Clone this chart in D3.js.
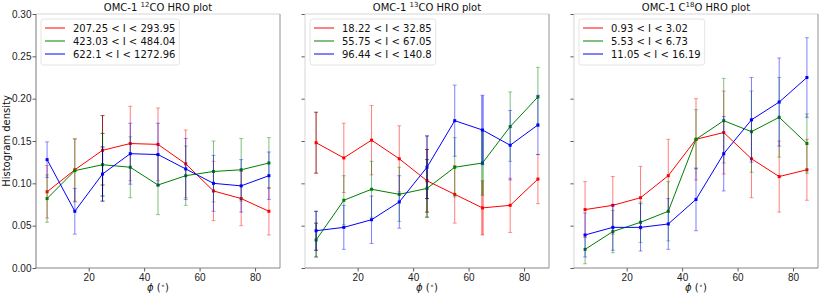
<!DOCTYPE html>
<html>
<head>
<meta charset="utf-8">
<script src="https://cdn.jsdelivr.net/npm/d3@7"></script>
<style>
  body { margin: 0; background: #fff; }
  svg { display: block; font-family: "DejaVu Sans", sans-serif; }
</style>
</head>
<body>
<svg id="chart" width="822" height="295"></svg>
<script>
// angle bins (deg)
const phi = [5, 15, 25, 35, 45, 55, 65, 75, 85];
const xTicks = [20, 40, 60, 80];
const yTicks = [0, 0.05, 0.10, 0.15, 0.20, 0.25, 0.30];

// 12CO
const co12Labels = ['207.25 < I < 293.95', '423.03 < I < 484.04', '622.1 < I < 1272.96'];
const co12Low = [0.090, 0.116, 0.139, 0.147, 0.146, 0.123, 0.091, 0.082, 0.067];
const co12LowErr = [0.031, 0.037, 0.041, 0.044, 0.043, 0.040, 0.035, 0.032, 0.028];
const co12Mid = [0.082, 0.115, 0.122, 0.119, 0.098, 0.109, 0.114, 0.116, 0.124];
const co12MidErr = [0.028, 0.037, 0.037, 0.036, 0.035, 0.035, 0.036, 0.037, 0.030];
const co12High = [0.128, 0.067, 0.111, 0.135, 0.134, 0.117, 0.100, 0.097, 0.109];
const co12HighErr = [0.021, 0.027, 0.032, 0.036, 0.037, 0.036, 0.033, 0.031, 0.028];

// 13CO
const co13Labels = ['18.22 < I < 32.85', '55.75 < I < 67.05', '96.44 < I < 140.8'];
const co13Low = [0.148, 0.130, 0.151, 0.129, 0.103, 0.087, 0.071, 0.074, 0.105];
const co13LowErr = [0.036, 0.041, 0.041, 0.039, 0.037, 0.034, 0.032, 0.032, 0.029];
const co13Mid = [0.033, 0.080, 0.093, 0.087, 0.094, 0.119, 0.124, 0.167, 0.202];
const co13MidErr = [0.020, 0.029, 0.033, 0.032, 0.034, 0.035, 0.038, 0.041, 0.035];
const co13High = [0.044, 0.048, 0.057, 0.078, 0.119, 0.174, 0.163, 0.145, 0.169];
const co13HighErr = [0.023, 0.026, 0.028, 0.031, 0.037, 0.042, 0.041, 0.041, 0.035];

// C18O
const c18Labels = ['0.93 < I < 3.02', '5.53 < I < 6.73', '11.05 < I < 16.19'];
const c18Low = [0.069, 0.074, 0.083, 0.109, 0.152, 0.160, 0.129, 0.108, 0.116];
const c18LowErr = [0.033, 0.034, 0.037, 0.043, 0.048, 0.049, 0.046, 0.042, 0.036];
const c18Mid = [0.022, 0.043, 0.054, 0.067, 0.152, 0.174, 0.161, 0.178, 0.147];
const c18MidErr = [0.017, 0.025, 0.024, 0.035, 0.035, 0.050, 0.048, 0.047, 0.035];
const c18High = [0.039, 0.048, 0.048, 0.052, 0.081, 0.135, 0.175, 0.196, 0.225];
const c18HighErr = [0.026, 0.027, 0.028, 0.030, 0.037, 0.044, 0.050, 0.052, 0.047];

const colors = ['#ff0000', '#008000', '#0000ff'];

const panels = [
  { left: 36, iso: ['', '12', 'CO'], labels: co12Labels,
    series: [[co12Low, co12LowErr], [co12Mid, co12MidErr], [co12High, co12HighErr]],
    darkBars: [2], yLabels: true },
  { left: 305, iso: ['', '13', 'CO'], labels: co13Labels,
    series: [[co13Low, co13LowErr], [co13Mid, co13MidErr], [co13High, co13HighErr]],
    darkBars: [0, 4], wideBars: [6], yLabels: false },
  { left: 574, iso: ['C', '18', 'O'], labels: c18Labels,
    series: [[c18Low, c18LowErr], [c18Mid, c18MidErr], [c18High, c18HighErr]],
    darkBars: [], yLabels: false }
];

const W = 244, plotTop = 14, plotBottom = 268;
const svg = d3.select('#chart');

const y = d3.scaleLinear().domain([0, 0.30]).range([plotBottom, plotTop]);

panels.forEach(p => {
  const x = d3.scaleLinear().domain([1, 89]).range([p.left, p.left + W]);
  const g = svg.append('g');

  // y axis
  const yAxis = d3.axisLeft(y).tickValues(yTicks).tickSize(3.5).tickPadding(1)
    .tickFormat(p.yLabels ? d3.format('.2f') : '');
  const ya = g.append('g').attr('transform', `translate(${p.left},0)`).call(yAxis);
  ya.select('.domain').remove();
  ya.selectAll('line').attr('stroke', '#333').attr('stroke-width', 0.8);
  ya.selectAll('text').attr('font-size', 10).attr('fill', '#222');

  // x axis
  const xAxis = d3.axisBottom(x).tickValues(xTicks).tickSize(3.5).tickPadding(2.5);
  const xa = g.append('g').attr('transform', `translate(0,${plotBottom})`).call(xAxis);
  xa.select('.domain').remove();
  xa.selectAll('line').attr('stroke', '#333').attr('stroke-width', 0.8);
  xa.selectAll('text').attr('font-size', 10).attr('fill', '#222');

  // frame
  g.append('line').attr('x1', p.left).attr('x2', p.left + W).attr('y1', plotTop).attr('y2', plotTop)
    .attr('stroke', '#ccc').attr('stroke-width', 0.8);
  g.append('line').attr('x1', p.left).attr('x2', p.left).attr('y1', plotTop).attr('y2', plotBottom)
    .attr('stroke', p.yLabels ? '#555' : '#ccc').attr('stroke-width', 0.8);
  g.append('line').attr('x1', p.left + W).attr('x2', p.left + W).attr('y1', plotTop).attr('y2', plotBottom)
    .attr('stroke', '#777').attr('stroke-width', 0.8);
  g.append('line').attr('x1', p.left).attr('x2', p.left + W).attr('y1', plotBottom).attr('y2', plotBottom)
    .attr('stroke', '#666').attr('stroke-width', 0.8);

  // series
  p.series.forEach(([vals, errs], si) => {
    const c = colors[si];
    const dark = d3.color(c).darker(1.6).formatHex();
    const pts = phi.map((f, i) => ({ f, v: vals[i], e: errs[i], i }));
    const bars = g.append('g');
    pts.forEach(d => {
      const isDark = p.darkBars.includes(d.i);
      const isWide = (p.wideBars || []).includes(d.i);
      const col = isDark ? dark : c;
      const op = isDark ? 0.9 : 0.5;
      const cx = x(d.f);
      bars.append('line').attr('x1', cx).attr('x2', cx)
        .attr('y1', y(d.v - d.e)).attr('y2', y(d.v + d.e))
        .attr('stroke', col).attr('stroke-opacity', op)
        .attr('stroke-width', isWide ? 2.5 : 1);
      [d.v - d.e, d.v + d.e].forEach(v => {
        bars.append('line').attr('x1', cx - 2).attr('x2', cx + 2)
          .attr('y1', y(v)).attr('y2', y(v))
          .attr('stroke', col).attr('stroke-opacity', op).attr('stroke-width', 0.8);
      });
    });
    g.append('path').datum(pts)
      .attr('d', d3.line().x(d => x(d.f)).y(d => y(d.v)))
      .attr('fill', 'none').attr('stroke', c).attr('stroke-width', 1);
    g.append('g').selectAll('rect').data(pts).join('rect')
      .attr('x', d => x(d.f) - 1.5).attr('y', d => y(d.v) - 1.5)
      .attr('width', 3).attr('height', 3).attr('fill', c);
  });

  // legend
  const lx = p.left + 5, ly = plotTop + 5;
  const leg = g.append('g');
  const box = leg.append('rect').attr('x', lx).attr('y', ly).attr('height', 46)
    .attr('rx', 2.5).attr('fill', '#fff').attr('fill-opacity', 0.8)
    .attr('stroke', '#ddd').attr('stroke-width', 0.8);
  let maxW = 0;
  p.labels.forEach((lab, i) => {
    const ry = ly + 9 + i * 13;
    leg.append('line').attr('x1', lx + 4).attr('x2', lx + 24).attr('y1', ry).attr('y2', ry)
      .attr('stroke', colors[i]).attr('stroke-width', 1);
    const t = leg.append('text').attr('x', lx + 32).attr('y', ry + 3.5)
      .attr('font-size', 10).attr('fill', '#111').text(lab);
    maxW = Math.max(maxW, t.node().getComputedTextLength());
  });
  box.attr('width', 32 + maxW + 4);

  // title
  const title = g.append('text').attr('x', p.left + W / 2).attr('y', 10.5)
    .attr('text-anchor', 'middle').attr('font-size', 10).attr('fill', '#111');
  title.append('tspan').text('OMC-1 ' + p.iso[0]);
  title.append('tspan').attr('font-size', 7).attr('dy', -3.5).text(p.iso[1]);
  title.append('tspan').attr('dy', 3.5).text(p.iso[2] + ' HRO plot');

  // x label
  const xl = g.append('text').attr('x', p.left + W / 2).attr('y', 291)
    .attr('text-anchor', 'middle').attr('font-size', 10).attr('fill', '#111');
  xl.append('tspan').attr('font-style', 'italic').text('ϕ');
  xl.append('tspan').text(' (');
  xl.append('tspan').attr('font-size', 7).attr('dy', -3.5).text('∘');
  xl.append('tspan').attr('dy', 3.5).text(')');
});

// y label
svg.append('text').attr('transform', 'translate(6.5,141) rotate(-90)')
  .attr('text-anchor', 'middle').attr('dominant-baseline', 'central')
  .attr('font-size', 10).attr('fill', '#111')
  .text('Histogram density');
</script>
</body>
</html>
